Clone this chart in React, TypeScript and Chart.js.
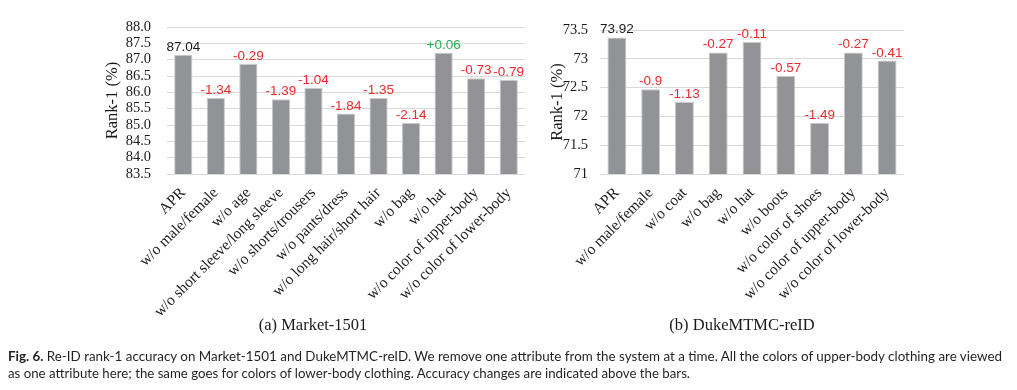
import React, { useEffect, useRef } from "react";
import { Chart, registerables } from "chart.js";

Chart.register(...registerables);

const marketCategories = [
  "APR",
  "w/o male/female",
  "w/o age",
  "w/o short sleeve/long sleeve",
  "w/o shorts/trousers",
  "w/o pants/dress",
  "w/o long hair/short hair",
  "w/o bag",
  "w/o hat",
  "w/o color of upper-body",
  "w/o color of lower-body",
];
const marketValues = [87.15, 85.83, 86.87, 85.79, 86.13, 85.35, 85.83, 85.06, 87.21, 86.43, 86.38];
const marketLabels = ["87.04", "-1.34", "-0.29", "-1.39", "-1.04", "-1.84", "-1.35", "-2.14", "+0.06", "-0.73", "-0.79"];

const dukeCategories = [
  "APR",
  "w/o male/female",
  "w/o coat",
  "w/o bag",
  "w/o hat",
  "w/o boots",
  "w/o color of shoes",
  "w/o color of upper-body",
  "w/o color of lower-body",
];
const dukeValues = [73.37, 72.47, 72.25, 73.11, 73.29, 72.7, 71.89, 73.11, 72.97];
const dukeLabels = ["73.92", "-0.9", "-1.13", "-0.27", "-0.11", "-0.57", "-1.49", "-0.27", "-0.41"];

const marketYMin = 83.5;
const marketYMax = 88.0;
const dukeYMin = 71;
const dukeYMax = 73.5;
const yStep = 0.5;

const subtitleA = "(a) Market-1501";
const subtitleB = "(b) DukeMTMC-reID";
const captionBold = "Fig. 6.";
const captionLine1 =
  " Re-ID rank-1 accuracy on Market-1501 and DukeMTMC-reID. We remove one attribute from the system at a time. All the colors of upper-body clothing are viewed";
const captionLine2 =
  "as one attribute here; the same goes for colors of lower-body clothing. Accuracy changes are indicated above the bars.";

const SERIF = "'Liberation Serif', 'Times New Roman', serif";
const SANS = "'Liberation Sans', Arial, sans-serif";

function labelColor(s: string, i: number) {
  if (i === 0) return "#1a1a1a";
  if (s.startsWith("+")) return "#22b04b";
  return "#ee2a2a";
}

function makeValueLabelPlugin(labels: string[]) {
  return {
    id: "valueLabels",
    afterDatasetsDraw(chart: any) {
      const ctx = chart.ctx;
      const meta = chart.getDatasetMeta(0);
      ctx.save();
      ctx.font = `13.5px ${SANS}`;
      ctx.textAlign = "center";
      ctx.textBaseline = "alphabetic";
      meta.data.forEach((bar: any, i: number) => {
        ctx.fillStyle = labelColor(labels[i], i);
        ctx.fillText(labels[i], bar.x, bar.y - 4);
      });
      ctx.restore();
    },
  };
}

interface BarChartProps {
  categories: string[];
  values: number[];
  labels: string[];
  yMin: number;
  yMax: number;
  width: number;
  height: number;
  yAxisWidth: number;
  padRight: number;
  padTop: number;
  xAxisHeight: number;
  titlePad: number;
  tickPad: number;
  tickFormat: (v: number) => string;
}

function BarChart(p: BarChartProps) {
  const ref = useRef<HTMLCanvasElement | null>(null);
  useEffect(() => {
    if (!ref.current) return;
    const chart = new Chart(ref.current, {
      type: "bar",
      data: {
        labels: p.categories,
        datasets: [
          {
            data: p.values,
            backgroundColor: "#929396",
            borderColor: "#c9c9ca",
            borderWidth: 1,
            barPercentage: 0.56,
            categoryPercentage: 1,
          },
        ],
      },
      options: {
        animation: false,
        responsive: false,
        devicePixelRatio: 1,
        layout: { padding: { left: 0, right: p.padRight, top: p.padTop, bottom: 0 } },
        plugins: {
          legend: { display: false },
          tooltip: { enabled: false },
        },
        scales: {
          x: {
            grid: { display: false, drawTicks: false },
            border: { display: false },
            ticks: {
              autoSkip: false,
              maxRotation: 45,
              minRotation: 45,
              padding: 10,
              color: "#1a1a1a",
              font: { family: SERIF, size: 15.5 },
            },
            afterFit: (s: any) => {
              s.height = p.xAxisHeight;
            },
          },
          y: {
            min: p.yMin,
            max: p.yMax,
            grid: { color: "#d9d9d9", lineWidth: 1, drawTicks: false },
            border: { display: false },
            ticks: {
              stepSize: yStep,
              autoSkip: false,
              padding: p.tickPad,
              color: "#1a1a1a",
              font: { family: SERIF, size: 14.5 },
              callback: (v: any) => p.tickFormat(Number(v)),
            },
            title: {
              display: true,
              text: "Rank-1 (%)",
              color: "#1a1a1a",
              font: { family: SERIF, size: 16.5 },
              padding: { top: p.titlePad, bottom: 0 },
            },
            afterFit: (s: any) => {
              s.width = p.yAxisWidth;
            },
          },
        },
      },
      plugins: [makeValueLabelPlugin(p.labels)],
    });
    return () => chart.destroy();
  }, []);
  return (
    <canvas
      ref={ref}
      width={p.width}
      height={p.height}
      style={{ width: p.width, height: p.height, display: "block" }}
    />
  );
}

export default function App() {
  return (
    <div
      style={{
        position: "absolute",
        left: 0,
        top: 0,
        width: 1017,
        height: 390,
        background: "#ffffff",
        overflow: "hidden",
      }}
    >
      <div style={{ position: "absolute", left: 90, top: 0 }}>
        <BarChart
          categories={marketCategories}
          values={marketValues}
          labels={marketLabels}
          yMin={marketYMin}
          yMax={marketYMax}
          width={450}
          height={320}
          yAxisWidth={77}
          padRight={15}
          padTop={27}
          xAxisHeight={146}
          titlePad={13}
          tickPad={16}
          tickFormat={(v) => v.toFixed(1)}
        />
      </div>
      <div style={{ position: "absolute", left: 545, top: 0 }}>
        <BarChart
          categories={dukeCategories}
          values={dukeValues}
          labels={dukeLabels}
          yMin={dukeYMin}
          yMax={dukeYMax}
          width={370}
          height={320}
          yAxisWidth={55}
          padRight={11}
          padTop={30}
          xAxisHeight={146}
          titlePad={3}
          tickPad={12}
          tickFormat={(v) => String(v)}
        />
      </div>
      <div
        style={{
          position: "absolute",
          left: 213,
          width: 200,
          top: 314,
          textAlign: "center",
          fontFamily: SERIF,
          fontSize: 16.5,
          color: "#1a1a1a",
          lineHeight: "22px",
        }}
      >
        {subtitleA}
      </div>
      <div
        style={{
          position: "absolute",
          left: 642,
          width: 200,
          top: 314,
          textAlign: "center",
          fontFamily: SERIF,
          fontSize: 16.5,
          color: "#1a1a1a",
          lineHeight: "22px",
        }}
      >
        {subtitleB}
      </div>
      <svg
        width={1017}
        height={390}
        style={{ position: "absolute", left: 0, top: 0, pointerEvents: "none" }}
      >
        <text
          x={8}
          y={361}
          textLength={994}
          lengthAdjust="spacingAndGlyphs"
          fontFamily="Lato, 'Open Sans', sans-serif"
          fontSize={13}
          fill="#231f20"
        >
          <tspan fontWeight="bold">{captionBold}</tspan>
          {captionLine1}
        </text>
        <text
          x={8}
          y={378}
          textLength={682}
          lengthAdjust="spacingAndGlyphs"
          fontFamily="Lato, 'Open Sans', sans-serif"
          fontSize={13}
          fill="#231f20"
        >
          {captionLine2}
        </text>
      </svg>
    </div>
  );
}
